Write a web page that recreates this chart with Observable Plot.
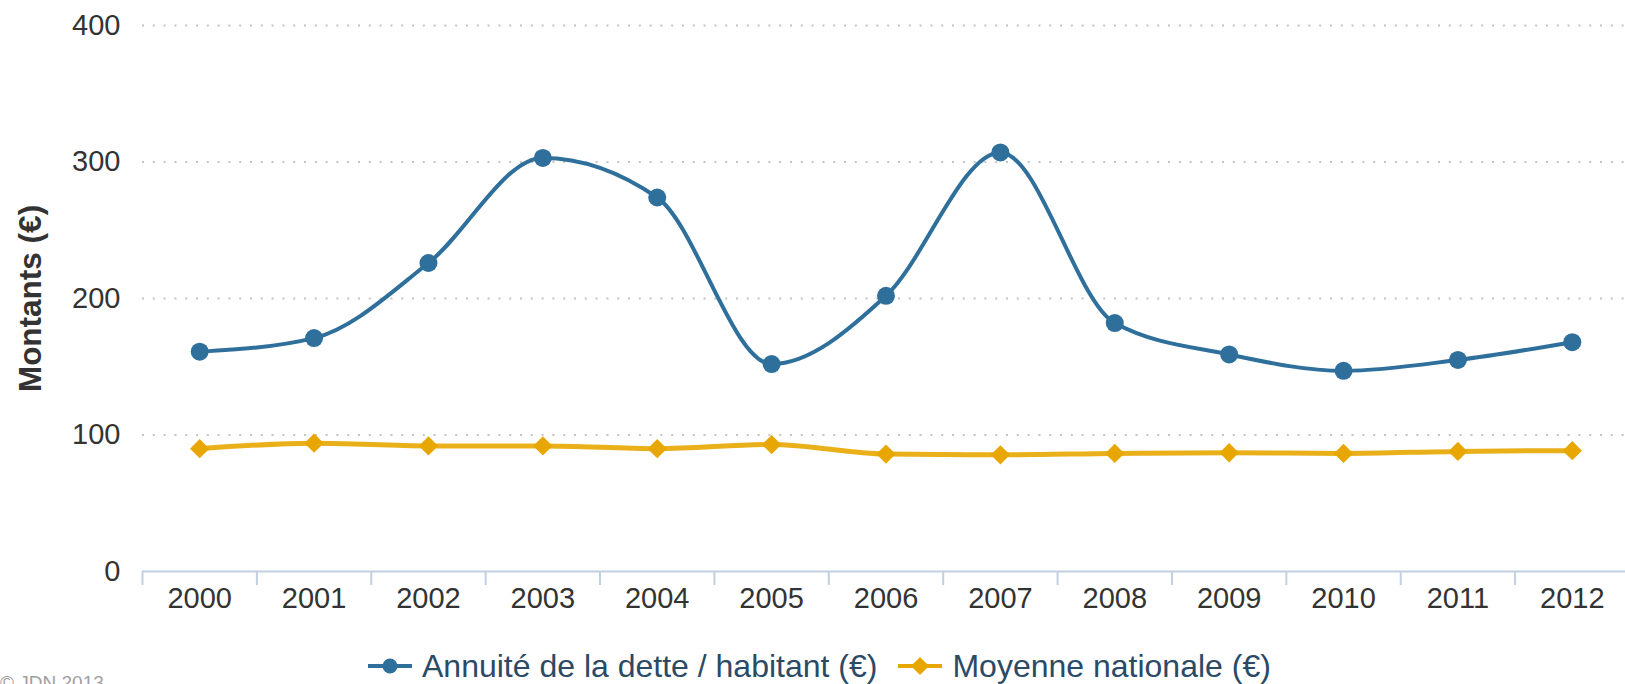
<!DOCTYPE html>
<html>
<head>
<meta charset="utf-8">
<script src="https://cdn.jsdelivr.net/npm/d3@7"></script>
<script src="https://cdn.jsdelivr.net/npm/@observablehq/plot@0.6"></script>
<style>
  html, body { margin: 0; padding: 0; background: #fff; overflow: hidden; width: 1625px; height: 684px; }
  #wrap { position: relative; width: 1625px; height: 684px; font-family: "Liberation Sans", Arial, Helvetica, sans-serif; }
  #legend { position: absolute; left: 368px; top: 644px; height: 44px; display: flex; align-items: center; font-size: 32px; color: #2b4a66; white-space: nowrap; }
  .item { display: flex; align-items: center; }
  .item svg { margin-right: 10px; }
  #credit { position: absolute; left: 0px; top: 672px; font-size: 19px; color: #a0a0a0; white-space: nowrap; }
</style>
</head>
<body>
<div id="wrap">
  <div id="chart"></div>
  <div id="legend"></div>
  <div id="credit">© JDN 2013</div>
</div>
<script>
const years = [2000, 2001, 2002, 2003, 2004, 2005, 2006, 2007, 2008, 2009, 2010, 2011, 2012];
const annuite = [161, 171, 226, 303, 274, 152, 202, 307, 182, 159, 147, 155, 168];
const moyenne = [90, 94, 92, 92, 90, 93, 86, 85.5, 86.5, 87, 86.5, 88, 88.5];
const yTicks = [0, 100, 200, 300, 400];
const gridValues = [100, 200, 300, 400];
const seriesNames = ["Annuité de la dette / habitant (€)", "Moyenne nationale (€)"];
const yTitle = "Montants (€)";

const blue = "#2f6f9c";
const orange = "#e8a700";

const dataA = years.map((y, i) => ({year: y, value: annuite[i]}));
const dataM = years.map((y, i) => ({year: y, value: moyenne[i]}));
const bandEdges = years.map(y => y - 0.5).concat([years[years.length - 1] + 0.5]);
const xDomain = [years[0] - 0.5, years[years.length - 1] + 0.5];

const font = '"Liberation Sans", Arial, Helvetica, sans-serif';

const chart = Plot.plot({
  width: 1625,
  height: 640,
  marginTop: 25,
  marginBottom: 69,
  marginLeft: 142,
  marginRight: 0,
  style: {fontFamily: font, background: "white", overflow: "visible"},
  x: {domain: xDomain, range: [142, 1629]},
  y: {domain: [0, 400]},
  marks: [
    Plot.ruleY(gridValues, {x1: xDomain[0], x2: xDomain[1], stroke: "#c4c4c4", strokeWidth: 2, strokeDasharray: "2 8.8"}),
    Plot.axisY({ticks: yTicks, tickSize: 0, tickPadding: 22, fontSize: 29, color: "#333", label: null}),
    Plot.axisX({ticks: bandEdges, tickSize: 14, stroke: "#c0d0e0", strokeWidth: 2, tickFormat: () => "", label: null}),
    Plot.axisX({ticks: years, tickSize: 0, tickPadding: 16, fontSize: 29, color: "#333", tickFormat: d => String(d), label: null}),
    Plot.ruleY([0], {x1: xDomain[0], x2: xDomain[1], stroke: "#c0d0e0", strokeWidth: 2}),
    Plot.text([yTitle], {frameAnchor: "left", dx: -112, rotate: -90, fontSize: 31.5, fontWeight: "bold", fill: "#333", textAnchor: "middle", lineAnchor: "middle"}),
    Plot.line(dataA, {x: "year", y: "value", stroke: blue, strokeWidth: 4, curve: "monotone-x"}),
    Plot.dot(dataA, {x: "year", y: "value", r: 9, fill: blue, stroke: "none"}),
    Plot.line(dataM, {x: "year", y: "value", stroke: orange, strokeWidth: 5, strokeOpacity: 0.9, curve: "monotone-x"}),
    Plot.dot(dataM, {x: "year", y: "value", r: 8.7, symbol: "diamond2", fill: orange, stroke: "none"})
  ]
});
document.getElementById("chart").appendChild(chart);

// Legend
const legend = document.getElementById("legend");
const symbols = [
  `<svg width="44" height="22" viewBox="0 0 44 22"><line x1="0" y1="11" x2="44" y2="11" stroke="${blue}" stroke-width="4"/><circle cx="22" cy="11" r="7.5" fill="${blue}"/></svg>`,
  `<svg width="44" height="22" viewBox="0 0 44 22"><line x1="0" y1="11" x2="44" y2="11" stroke="${orange}" stroke-width="4"/><path d="M22,2 L31,11 L22,20 L13,11 Z" fill="${orange}"/></svg>`
];
seriesNames.forEach((name, i) => {
  const item = document.createElement("div");
  item.className = "item";
  if (i > 0) item.style.marginLeft = "21px";
  item.innerHTML = symbols[i] + `<span>${name}</span>`;
  legend.appendChild(item);
});
</script>
</body>
</html>
